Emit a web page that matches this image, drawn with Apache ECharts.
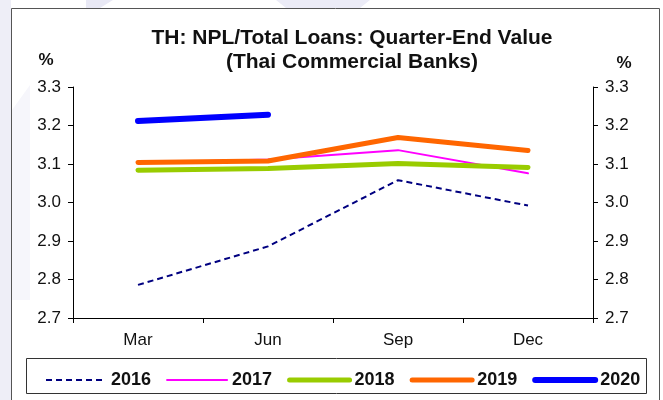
<!DOCTYPE html>
<html>
<head>
<meta charset="utf-8">
<script src="https://cdn.jsdelivr.net/npm/echarts@6/dist/echarts.min.js"></script>
<style>
  html, body { margin: 0; padding: 0; background: #ffffff; }
  #chart { width: 663px; height: 400px; }
</style>
</head>
<body>
<div id="chart"></div>
<script>
// Quarter-end NPL / total loans ratio, Thai commercial banks (%)
const quarters = ['Mar', 'Jun', 'Sep', 'Dec'];
const years = ['2016', '2017', '2018', '2019', '2020'];
const npl2016 = [2.786, 2.886, 3.058, 2.992];
const npl2017 = [3.103, 3.112, 3.136, 3.076];
const npl2018 = [3.084, 3.088, 3.101, 3.091];
const npl2019 = [3.104, 3.108, 3.169, 3.135];
const npl2020 = [3.212, 3.228];
const yTicks = [2.7, 2.8, 2.9, 3.0, 3.1, 3.2, 3.3];

const FONT = 'Liberation Sans, Arial, Helvetica, sans-serif';

const styles = {
  '2016': { color: '#000080', width: 2, type: [6, 4], cap: 'butt' },
  '2017': { color: '#ff00ff', width: 2, type: 'solid', cap: 'round' },
  '2018': { color: '#99cc00', width: 5, type: 'solid', cap: 'round' },
  '2019': { color: '#ff6600', width: 5, type: 'solid', cap: 'round' },
  '2020': { color: '#0000ff', width: 6, type: 'solid', cap: 'round' }
};
const values = { '2016': npl2016, '2017': npl2017, '2018': npl2018, '2019': npl2019, '2020': npl2020 };

const chart = echarts.init(document.getElementById('chart'), null, { renderer: 'canvas' });

const yAxisCommon = {
  type: 'value',
  min: yTicks[0],
  max: yTicks[yTicks.length - 1],
  interval: 0.1,
  splitLine: { show: false },
  axisLine: { show: true, lineStyle: { color: '#000', width: 1 } },
  axisTick: { show: true, inside: false, length: 5, lineStyle: { color: '#000' } },
  axisLabel: {
    color: '#111', fontFamily: FONT, fontSize: 17, margin: 12,
    formatter: v => v.toFixed(1)
  }
};

chart.setOption({
  animation: false,
  backgroundColor: 'transparent',
  graphic: [
    // faint background watermark
    { type: 'rect', z: -20, shape: { x: 0, y: 0, width: 11, height: 400 }, style: { fill: '#eeeef7' } },
    { type: 'polygon', z: -20, shape: { points: [[86, 0], [113, 0], [100, 8], [86, 8]] }, style: { fill: '#e9e9f5' } },
    { type: 'polygon', z: -20, shape: { points: [[276, 0], [370, 0], [360, 8], [286, 8]] }, style: { fill: '#ececf7' } },
    { type: 'polygon', z: -20, shape: { points: [[12, 110], [30, 85], [30, 300], [12, 300]] }, style: { fill: '#f6f6fb' } },
    // outer frame
    { type: 'rect', z: 10, shape: { x: 11.5, y: 8.5, width: 648, height: 400 }, style: { fill: null, stroke: '#555', lineWidth: 1 } },
    // legend frame
    { type: 'rect', z: 10, shape: { x: 26.5, y: 358.5, width: 620, height: 35 }, style: { fill: null, stroke: '#333', lineWidth: 1 } },
    // unit labels
    { type: 'text', z: 10, x: 46, y: 60, style: { text: '%', fill: '#111', font: 'bold 17px ' + FONT, align: 'center', verticalAlign: 'middle' } },
    { type: 'text', z: 10, x: 624, y: 63, style: { text: '%', fill: '#111', font: 'bold 17px ' + FONT, align: 'center', verticalAlign: 'middle' } }
  ],
  title: {
    text: 'TH: NPL/Total Loans: Quarter-End Value\n(Thai Commercial Banks)',
    left: 347,
    top: 21,
    textAlign: 'center',
    textStyle: { fontFamily: FONT, fontSize: 21, fontWeight: 'bold', color: '#111', lineHeight: 24 }
  },
  grid: { left: 73, right: 70, top: 87, bottom: 82, containLabel: false },
  legend: {
    left: 40,
    top: 366,
    itemWidth: 60,
    itemHeight: 18,
    itemGap: 15,
    selectedMode: false,
    textStyle: { fontFamily: FONT, fontSize: 18, fontWeight: 'bold', color: '#111' },
    data: years.map(y => ({
      name: y,
      itemStyle: { color: 'rgba(0,0,0,0)', borderWidth: 0, opacity: 0 },
      lineStyle: { color: styles[y].color, width: styles[y].width, type: styles[y].type, cap: styles[y].cap, opacity: 1 }
    }))
  },
  xAxis: {
    type: 'category',
    data: quarters,
    boundaryGap: true,
    axisLine: { show: true, lineStyle: { color: '#000', width: 1 } },
    axisTick: { show: true, inside: false, length: 5, alignWithLabel: false, lineStyle: { color: '#000' } },
    axisLabel: { color: '#111', fontFamily: FONT, fontSize: 17, margin: 14 },
    splitLine: { show: false }
  },
  yAxis: [
    Object.assign({}, yAxisCommon, { position: 'left' }),
    Object.assign({}, yAxisCommon, { position: 'right' })
  ],
  series: years.map((y, i) => ({
    name: y,
    type: 'line',
    yAxisIndex: 0,
    data: values[y],
    symbol: 'none',
    showSymbol: false,
    z: 2 + i,
    lineStyle: { color: styles[y].color, width: styles[y].width, type: styles[y].type, cap: styles[y].cap, join: 'round' },
    itemStyle: { color: styles[y].color }
  }))
});
</script>
</body>
</html>
